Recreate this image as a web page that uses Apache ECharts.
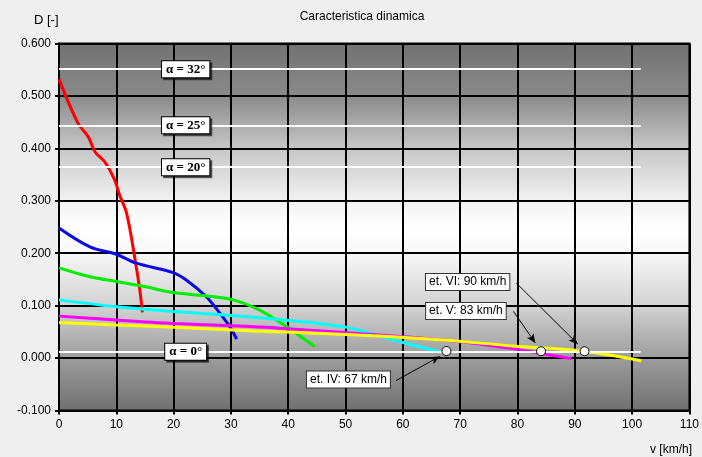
<!DOCTYPE html>
<html>
<head>
<meta charset="utf-8">
<script src="https://cdn.jsdelivr.net/npm/echarts@6/dist/echarts.min.js"></script>
<style>
html,body{margin:0;padding:0;background:#efefef;}
#chart{width:702px;height:457px;}
</style>
</head>
<body>
<div id="chart"></div>
<script>
// ---- data ----
var xTicks = [0, 10, 20, 30, 40, 50, 60, 70, 80, 90, 100, 110];
var yTicks = [-0.1, 0, 0.1, 0.2, 0.3, 0.4, 0.5, 0.6];

var gear1X = [0, 3.3, 5.1, 6.3, 8, 9.7, 10.6, 11.8, 13.2, 14.1, 14.55];
var gear1Y = [0.532, 0.448, 0.422, 0.393, 0.374, 0.34, 0.31, 0.276, 0.193, 0.13, 0.087];

var gear2X = [0, 5.4, 10, 13.5, 19.9, 22.2, 25.7, 28.1, 29.8, 31];
var gear2Y = [0.248, 0.212, 0.198, 0.181, 0.163, 0.149, 0.117, 0.085, 0.06, 0.036];

var gear3X = [0, 5.4, 10, 14.7, 19.9, 26.3, 30.4, 34.4, 37.9, 41.4, 44.6];
var gear3Y = [0.172, 0.155, 0.146, 0.137, 0.125, 0.118, 0.111, 0.095, 0.073, 0.047, 0.022];

var gear4X = [0, 10, 20, 25, 33, 36, 50, 59.5, 65.3, 68.2];
var gear4Y = [0.111, 0.098, 0.089, 0.085, 0.079, 0.076, 0.059, 0.031, 0.015, 0.008];

var gear5X = [0, 10, 20, 33.3, 38.5, 55.9, 67.6, 79.2, 83.9, 89.4];
var gear5Y = [0.080, 0.0725, 0.066, 0.060, 0.057, 0.044, 0.034, 0.018, 0.009, -0.001];

var gear6X = [0, 10, 20, 33.3, 38.5, 55.9, 67.6, 79.2, 91.5, 101.6];
var gear6Y = [0.068, 0.063, 0.059, 0.052, 0.050, 0.042, 0.034, 0.023, 0.013, -0.005];

var slopeValues = [0.551, 0.444, 0.364, 0.012];
var slopeLabels = ['\u03b1 = 32\u00b0', '\u03b1 = 25\u00b0', '\u03b1 = 20\u00b0', '\u03b1 = 0\u00b0'];
var slopeLineEnd = 101.5;
var slopeLabelX = 22.1;

var maxSpeedX = [67.6, 84.1, 91.7];
var maxSpeedY = [0.0134, 0.013, 0.013];
var maxSpeedLabels = ['et. IV: 67 km/h', 'et. V: 83 km/h', 'et. VI: 90 km/h'];
// label anchor (data coords) and arrow start
var noteLabelX = [50.5, 71.0, 71.3];
var noteLabelY = [-0.041, 0.090, 0.145];
var arrowFromX = [58.8, 79.3, 79.8];
var arrowFromY = [-0.043, 0.089, 0.143];
var arrowToX = [66.4, 83.1, 90.5];
var arrowToY = [0.003, 0.029, 0.027];

// ---- build ----
function zip(xs, ys) { return xs.map(function (x, i) { return [x, ys[i]]; }); }

var gears = [
  {x: gear1X, y: gear1Y, c: '#ff0000'},
  {x: gear2X, y: gear2Y, c: '#0a0ae6'},
  {x: gear3X, y: gear3Y, c: '#00ee00'},
  {x: gear4X, y: gear4Y, c: '#00ffff'},
  {x: gear5X, y: gear5Y, c: '#ff00ff'},
  {x: gear6X, y: gear6Y, c: '#ffff00'}
];

var series = [];

// slope lines (white)
series.push({
  type: 'line', data: [], silent: true, z: 2,
  markLine: {
    silent: true, symbol: ['none', 'none'], animation: false,
    lineStyle: {color: '#ffffff', width: 2, type: 'solid'},
    label: {show: false},
    data: slopeValues.map(function (v) { return [{coord: [0, v]}, {coord: [slopeLineEnd, v]}]; })
  }
});

gears.forEach(function (g) {
  series.push({
    type: 'line', data: zip(g.x, g.y), smooth: 0.35, showSymbol: false, symbol: 'none',
    lineStyle: {color: g.c, width: 3}, z: 3, animation: false
  });
});

// slope labels
series.push({
  type: 'scatter', symbolSize: 0, z: 5, animation: false, silent: true,
  itemStyle: {opacity: 1},
  data: slopeValues.map(function (v, i) { return {value: [slopeLabelX, v], name: slopeLabels[i]}; }),
  label: {
    show: true, position: 'inside', formatter: function (p) { return p.name; },
    fontFamily: 'Liberation Serif', fontWeight: 'bold', fontSize: 13, color: '#000',
    backgroundColor: '#ffffff', borderColor: '#000', borderWidth: 1, padding: [2, 4, 1, 4],
    shadowColor: 'rgba(0,0,0,0.55)', shadowOffsetX: 2, shadowOffsetY: 2, shadowBlur: 0
  }
});

// arrows
series.push({
  type: 'line', data: [], silent: true, z: 4,
  markLine: {
    silent: true, animation: false, symbol: ['none', 'arrow'], symbolSize: [6, 9],
    lineStyle: {color: '#000', width: 1, type: 'solid'},
    label: {show: false},
    data: arrowFromX.map(function (x, i) {
      return [{coord: [x, arrowFromY[i]]}, {coord: [arrowToX[i], arrowToY[i]]}];
    })
  }
});

// max speed markers
series.push({
  type: 'scatter', symbol: 'circle', symbolSize: 9, z: 6, animation: false, silent: true,
  itemStyle: {color: '#ffffff', borderColor: '#000', borderWidth: 1, opacity: 1},
  data: zip(maxSpeedX, maxSpeedY)
});

// note labels
series.push({
  type: 'scatter', symbolSize: 0, z: 7, animation: false, silent: true,
  itemStyle: {opacity: 1},
  data: noteLabelX.map(function (x, i) { return {value: [x, noteLabelY[i]], name: maxSpeedLabels[i]}; }),
  label: {
    show: true, position: 'inside', formatter: function (p) { return p.name; },
    fontFamily: 'Liberation Sans', fontSize: 12, color: '#000',
    backgroundColor: '#ffffff', borderColor: '#333', borderWidth: 1, padding: [2, 3, 2, 3]
  }
});

var chart = echarts.init(document.getElementById('chart'), null, {renderer: 'canvas'});
chart.setOption({
  animation: false,
  backgroundColor: '#efefef',
  title: [
    {text: 'Caracteristica dinamica', left: 357, top: 6, textAlign: 'center',
     textStyle: {fontFamily: 'Liberation Sans', fontSize: 12, fontWeight: 'normal', color: '#000'}},
    {text: 'D [-]', left: 29, top: 9,
     textStyle: {fontFamily: 'Liberation Sans', fontSize: 13, fontWeight: 'normal', color: '#000'}},
    {text: 'v [km/h]', right: 5, top: 439,
     textStyle: {fontFamily: 'Liberation Sans', fontSize: 12, fontWeight: 'normal', color: '#000'}}
  ],
  grid: {
    left: 59, right: 12, top: 43.5, bottom: 46.5, show: true,
    borderColor: '#000', borderWidth: 2,
    backgroundColor: new echarts.graphic.LinearGradient(0, 0, 0, 1, [
      {offset: 0, color: '#717171'},
      {offset: 0.143, color: '#8a8a8a'},
      {offset: 0.286, color: '#c6c6c6'},
      {offset: 0.429, color: '#f2f2f2'},
      {offset: 0.5, color: '#ffffff'},
      {offset: 0.571, color: '#f8f8f8'},
      {offset: 0.714, color: '#d2d2d2'},
      {offset: 0.857, color: '#9c9c9c'},
      {offset: 1, color: '#6f6f6f'}
    ])
  },
  xAxis: {
    type: 'value', min: xTicks[0], max: xTicks[xTicks.length - 1], interval: 10,
    axisLine: {show: true, onZero: false, lineStyle: {color: '#000', width: 2}},
    axisTick: {show: true, length: 4, lineStyle: {color: '#000', width: 2}},
    axisLabel: {color: '#000', fontFamily: 'Liberation Sans', fontSize: 12, margin: 8},
    splitLine: {show: true, lineStyle: {color: '#000', width: 2}}
  },
  yAxis: {
    type: 'value', min: yTicks[0], max: yTicks[yTicks.length - 1], interval: 0.1,
    axisLine: {show: true, onZero: false, lineStyle: {color: '#000', width: 2}},
    axisTick: {show: true, length: 4, lineStyle: {color: '#000', width: 2}},
    axisLabel: {color: '#000', fontFamily: 'Liberation Sans', fontSize: 12, margin: 8,
      formatter: function (v) { return v.toFixed(3); }},
    splitLine: {show: true, lineStyle: {color: '#000', width: 2}}
  },
  series: series
});
</script>
</body>
</html>
